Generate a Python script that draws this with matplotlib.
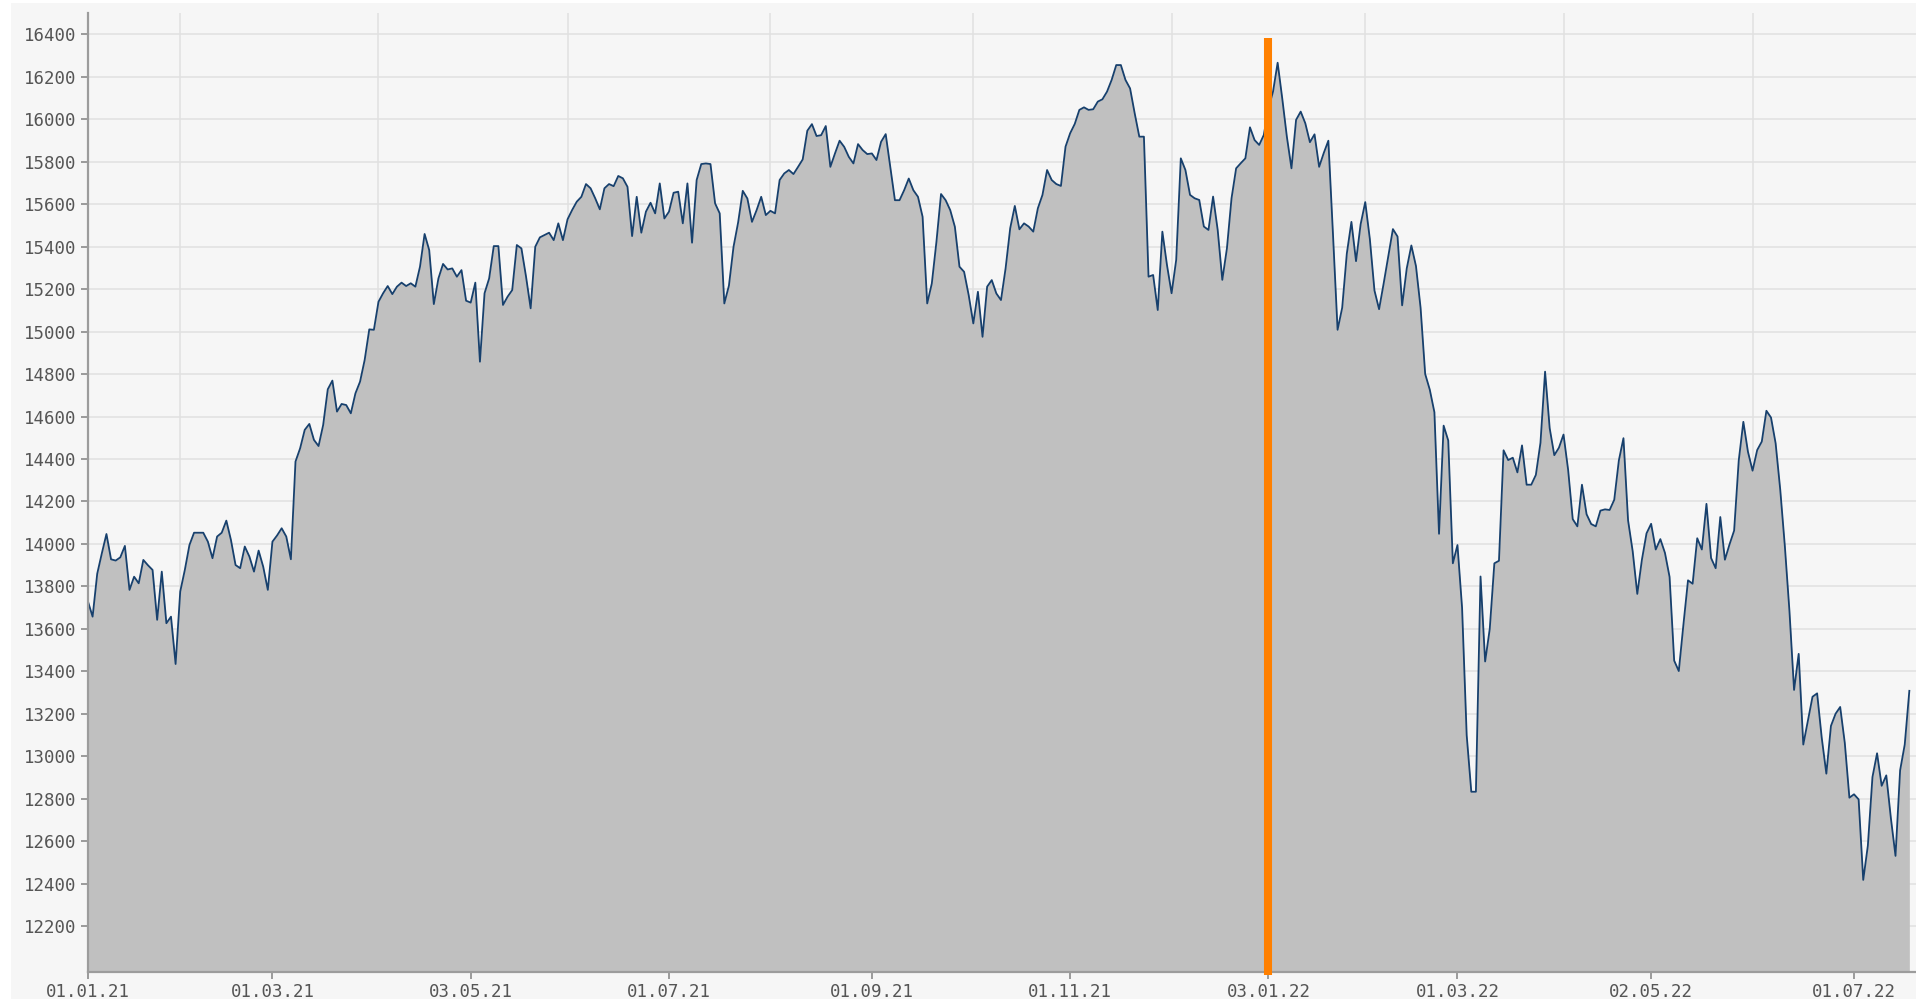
import matplotlib
matplotlib.use("Agg")
import matplotlib.pyplot as plt
from matplotlib.patches import Rectangle

# DAX daily closes, one value per trading session (session 0 = first session of 2021)
close = [
    13729, 13658, 13860, 13956, 14047, 13928, 13922, 13937, 13991, 13784,
    13846, 13815, 13925, 13900, 13878, 13643, 13870, 13627, 13658, 13435,
    13776, 13878, 13995, 14053, 14053, 14053, 14011, 13933, 14035, 14053,
    14110, 14019, 13901, 13886, 13988, 13941, 13870, 13969, 13893, 13784,
    14011, 14040, 14074, 14035, 13928, 14388, 14450, 14537, 14565, 14490,
    14461, 14560, 14728, 14769, 14623, 14659, 14654, 14615, 14709, 14764,
    14866, 15010, 15008, 15140, 15180, 15214, 15176, 15211, 15230, 15214,
    15227, 15211, 15305, 15459, 15383, 15129, 15250, 15318, 15292, 15297,
    15258, 15289, 15145, 15136, 15230, 14858, 15180, 15250, 15402, 15402,
    15125, 15164, 15195, 15407, 15391, 15258, 15109, 15399, 15443, 15454,
    15465, 15430, 15509, 15430, 15528, 15572, 15611, 15634, 15694, 15674,
    15627, 15575, 15674, 15694, 15684, 15732, 15721, 15681, 15449, 15634,
    15465, 15564, 15606, 15556, 15697, 15532, 15564, 15653, 15658, 15509,
    15697, 15418, 15713, 15788, 15791, 15788, 15603, 15556, 15132, 15216,
    15399, 15514, 15662, 15626, 15516, 15571, 15634, 15548, 15568, 15556,
    15713, 15744, 15760, 15741, 15775, 15810, 15945, 15976, 15920, 15924,
    15967, 15775, 15838, 15898, 15869, 15822, 15791, 15882, 15854, 15835,
    15838, 15807, 15893, 15929, 15775, 15618, 15618, 15665, 15720, 15665,
    15634, 15540, 15132, 15226, 15422, 15647, 15618, 15571, 15493, 15305,
    15281, 15171, 15038, 15187, 14975, 15211, 15242, 15179, 15148, 15297,
    15486, 15591, 15481, 15509, 15494, 15470, 15580, 15643, 15760, 15713,
    15694, 15685, 15870, 15933, 15977, 16043, 16055, 16043, 16046, 16082,
    16093, 16129, 16184, 16254, 16254, 16184, 16144, 16027, 15917, 15917,
    15258, 15266, 15101, 15470, 15313, 15180, 15337, 15815, 15760, 15643,
    15627, 15619, 15494, 15478, 15635, 15478, 15243, 15391, 15627, 15768,
    15792, 15815, 15961, 15901, 15878, 15925, 16050, 16129, 16265, 16097,
    15917, 15768, 15996, 16035, 15980, 15891, 15928, 15775, 15840, 15898,
    15459, 15008, 15112, 15366, 15516, 15331, 15505, 15609, 15435, 15193,
    15105, 15227, 15355, 15482, 15447, 15123, 15297, 15405, 15308, 15112,
    14800, 14726, 14620, 14048, 14557, 14487, 13909, 13995, 13700, 13100,
    12834, 12834, 13847, 13447, 13600, 13909, 13921, 14441, 14395, 14406,
    14337, 14464, 14279, 14279, 14325, 14476, 14811, 14545, 14418, 14453,
    14515, 14349, 14117, 14083, 14279, 14140, 14094, 14083, 14157, 14163,
    14160, 14208, 14393, 14498, 14111, 13966, 13765, 13926, 14050, 14095,
    13974, 14023, 13958, 13845, 13451, 13402, 13620, 13829, 13813, 14027,
    13974, 14189, 13934, 13886, 14127, 13926, 13998, 14063, 14393, 14575,
    14434, 14345, 14442, 14482, 14627, 14595, 14474, 14256, 13990, 13684,
    13313, 13483, 13056, 13168, 13281, 13297, 13088, 12919, 13144, 13201,
    13233, 13064, 12806, 12822, 12798, 12419, 12580, 12903, 13015, 12862,
    12911, 12709, 12532, 12935, 13056, 13309,
]
session = list(range(len(close)))

tick_sessions = [0, 40, 83, 126, 170, 213, 256, 297, 339, 383]
tick_labels = ["01.01.21", "01.03.21", "03.05.21", "01.07.21", "01.09.21",
               "01.11.21", "03.01.22", "01.03.22", "02.05.22", "01.07.22"]
month_sessions = [20, 40, 63, 83, 104, 126, 148, 170, 192, 213, 235, 256,
                  277, 297, 320, 339, 361, 383]
y_ticks = list(range(12200, 16401, 200))
y_min, y_max = 11988, 16499
marker_session = 256
marker_top = 16381

W, H = 1916, 999
PX_PER_SESSION = 4.611

plt.rcParams['font.family'] = ['DejaVu Sans Mono', 'DejaVu Sans']

fig = plt.figure(figsize=(W / 100, H / 100), dpi=100, facecolor='white')
fig.patches.append(Rectangle((11 / W, 0), 1, 1 - 3 / H, transform=fig.transFigure,
                             facecolor='#f6f6f6', edgecolor='none', zorder=-10))

left, bottom_px, top_px = 88, 971.5, 13
ax = fig.add_axes([left / W, (H - bottom_px) / H, (W - left) / W, (bottom_px - top_px) / H])
ax.set_facecolor('#f6f6f6')
ax.set_xlim(0, (W - left) / PX_PER_SESSION)
ax.set_ylim(y_min, y_max)

ax.fill_between(session, close, y_min, color='#c0c0c0', linewidth=0, zorder=2)
ax.plot(session, close, color='#17406d', linewidth=1.3, zorder=3)

ax.vlines(marker_session, y_min - 18, marker_top, colors='#ff8000',
          linewidth=5.8, zorder=5, clip_on=False)

ax.set_yticks(y_ticks)
ax.set_yticklabels([str(v) for v in y_ticks])
ax.set_xticks(tick_sessions)
ax.set_xticklabels(tick_labels)
ax.set_xticks(month_sessions, minor=True)

ax.set_axisbelow(True)
ax.grid(axis='y', which='major', color='#e0e0e0', linewidth=1.1, zorder=0)
ax.grid(axis='x', which='minor', color='#e0e0e0', linewidth=1.1, zorder=0)
ax.grid(axis='x', which='major', visible=False)

for s in ['top', 'right']:
    ax.spines[s].set_visible(False)
for s in ['left', 'bottom']:
    ax.spines[s].set_color('#9c9c9c')
    ax.spines[s].set_linewidth(1.6)
    ax.spines[s].set_zorder(4)

ax.tick_params(axis='both', which='major', length=5, width=1.2, color='#8a8a8a',
               labelcolor='#555555', labelsize=12.5, pad=3)
ax.tick_params(axis='x', which='minor', length=0)

fig.savefig('out.png', dpi=100, facecolor=fig.get_facecolor())
